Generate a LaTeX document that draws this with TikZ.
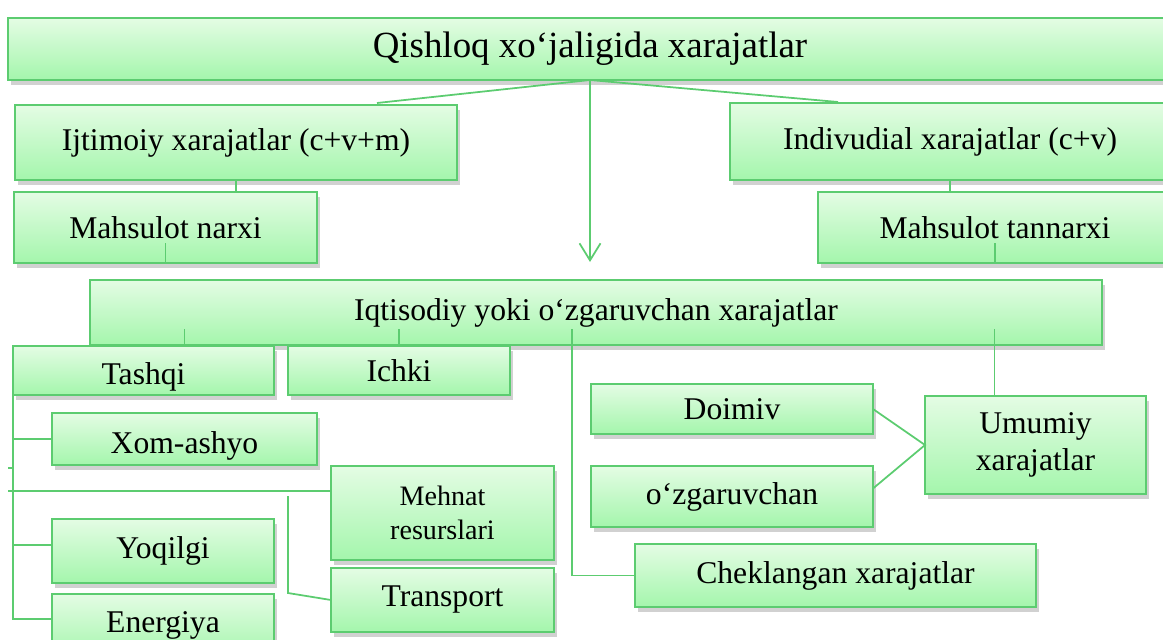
\documentclass[tikz,border=0pt]{standalone}
\usepackage{fontspec}
\setmainfont{Liberation Serif}
\usetikzlibrary{arrows.meta,calc,shadows}
\definecolor{lngreen}{RGB}{92,204,112}
\definecolor{boxtop}{RGB}{228,252,228}
\definecolor{boxbot}{RGB}{164,246,172}
\tikzset{
  box/.style={draw=lngreen, line width=1pt, top color=boxtop, bottom color=boxbot,
    inner sep=0pt, outer sep=0pt, align=center, font=\fontsize{18}{21}\selectfont,
    drop shadow={shadow xshift=0.6mm, shadow yshift=-0.9mm, opacity=0.3, fill=black!60}},
  sz/.style 2 args={minimum width=#1*0.02cm, minimum height=#2*0.02cm},
  low/.style={text height=#1, text depth=0pt},
  link/.style={draw=lngreen, line width=1pt},
}

\begin{document}
\begin{tikzpicture}[x=0.02cm, y=-0.02cm]
	\clip (0,0) rectangle (1163,639);
	% upper part
	\node[box, sz={1164}{62}, font=\fontsize{21}{24}\selectfont] (qishloq) at (590,49) {Qishloq xo‘jaligida xarajatlar};
	\node[box, sz={442}{75}] (ijtimoiy) at (236,142.5) {Ijtimoiy xarajatlar (c+v+m)};
	\node[box, sz={440}{77}] (indiv) at (950,141.5) {Indivudial xarajatlar (c+v)};
	\node[box, sz={303}{71}] (mnarxi) at (165.5,227.5) {Mahsulot narxi};
	\node[box, sz={354}{71}] (mtannarxi) at (995,227.5) {Mahsulot tannarxi};
	\node[box, sz={1012}{65}] (iqtisodiy) at (596,312.5) {Iqtisodiy yoki o‘zgaruvchan xarajatlar};
	% lower part
	\node[box, sz={261}{49}, low=16pt] (tashqi) at (143.5,370.5) {Tashqi};
	\node[box, sz={222}{49}] (ichki) at (399,370.5) {Ichki};
	\node[box, sz={265}{52}, low=16pt] (xom) at (184.5,439) {Xom-ashyo};
	\node[box, sz={222}{64}] (yoqilgi) at (163,551) {Yoqilgi};
	\node[box, sz={222}{64}, low=7pt] (energiya) at (163,626) {Energiya};
	\node[box, sz={223}{94}, font=\fontsize{16}{19}\selectfont] (mehnat) at (442.5,513) {Mehnat\\resurslari};
	\node[box, sz={223}{64}] (transport) at (442.5,600) {Transport};
	\node[box, sz={282}{50}] (doimiv) at (732,409) {Doimiv};
	\node[box, sz={282}{61}] (ozgar) at (732,496.5) {o‘zgaruvchan};
	\node[box, sz={221}{98}] (umumiy) at (1035.5,445) {\rule{0pt}{9pt}Umumiy\\xarajatlar};
	\node[box, sz={401}{63}] (cheklangan) at (835.5,575.5) {Cheklangan xarajatlar};
	\coordinate (leftend) at (8,491);
	\coordinate (tick) at (8,468);

	\draw[link] (qishloq.south) -- ($(ijtimoiy.north)+(141,-2)$);
	\draw[link] (qishloq.south) -- ($(indiv.north)+(-112,-1)$);
	\draw[link, -{Straight Barb[length=3.4mm, width=4.2mm]}] (qishloq.south) -- ($(qishloq.south |- iqtisodiy.north)+(0,-18)$);
	\draw[link] (ijtimoiy.south) -- (ijtimoiy.south |- mnarxi.north);
	\draw[link] (indiv.south) -- (indiv.south |- mtannarxi.north);
	\draw[link] ($(mnarxi.south)+(0,-20)$) -- (mnarxi.south);
	\draw[link] ($(mtannarxi.south)+(0,-20)$) -- (mtannarxi.south);
	\draw[link] ($(tashqi.north)+(41,-17)$) -- ($(tashqi.north)+(41,0)$);
	\draw[link] ($(ichki.north)+(0,-17)$) -- (ichki.north);
	\draw[link] ($(iqtisodiy.south)+(-24,-16)$) |- (cheklangan.west);
	\draw[link] ($(umumiy.north |- iqtisodiy.south)+(-41,-16)$) -- ($(umumiy.north)+(-41,0)$);
	\draw[link] (doimiv.east) -- (umumiy.west) -- ($(ozgar.east)+(0,-8)$);
	% left branch
	\draw[link] (tashqi.south west) |- ($(energiya.west)+(0,-7)$);
	\draw[link] (xom.west -| tashqi.west) -- (xom.west);
	\draw[link] ($(yoqilgi.west -| tashqi.west)+(0,-6)$) -- ($(yoqilgi.west)+(0,-6)$);
	\draw[link] ($(mehnat.west)+(0,-22)$) -- (leftend);
	\draw[link] (tick) -- (tick -| tashqi.west);
	\draw[link] ($(mehnat.west)+(-43,-17)$) -- ($(transport.west)+(-43,-7)$) -- (transport.west);
\end{tikzpicture}
\end{document}
